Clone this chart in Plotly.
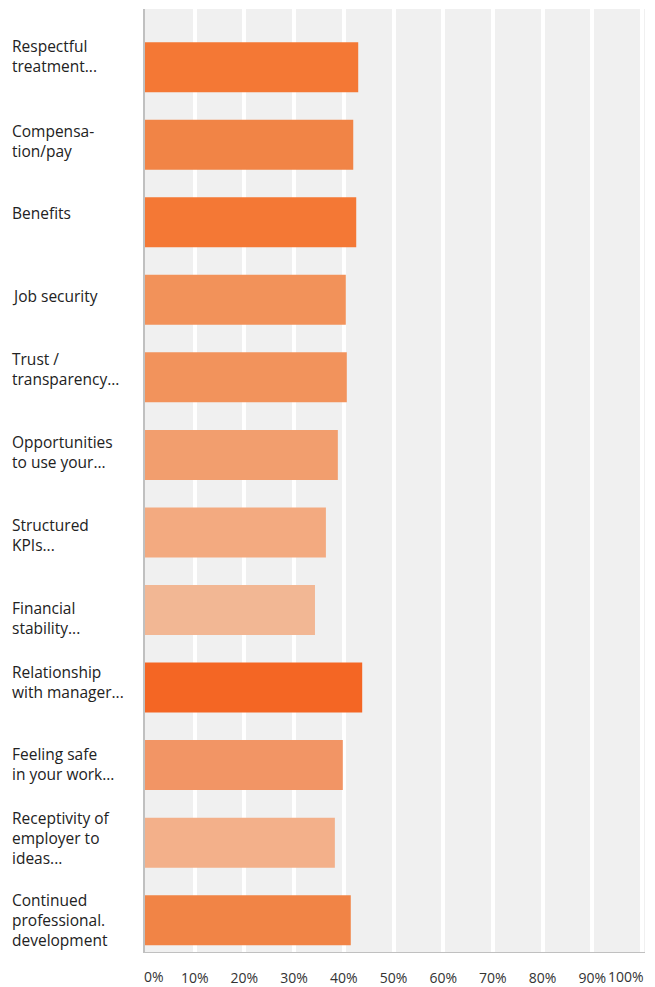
import plotly.graph_objects as go

# Survey factors (top to bottom) and share of respondents, in percent
categories = [
    "Respectful<br>treatment...",
    "Compensa-<br>tion/pay",
    "Benefits",
    "Job security",
    "Trust /<br>transparency...",
    "Opportunities<br>to use your...",
    "Structured<br>KPIs...",
    "Financial<br>stability...",
    "Relationship<br>with manager...",
    "Feeling safe<br>in your work...",
    "Receptivity of<br>employer to<br>ideas...",
    "Continued<br>professional.<br>development",
]
values = [42.9, 41.9, 42.5, 40.4, 40.6, 38.8, 36.4, 34.2, 43.7, 39.8, 38.2, 41.4]
bar_colors = [
    "#F47835", "#F18446", "#F47835", "#F2925A", "#F2935C", "#F29E6E",
    "#F3AA80", "#F2B794", "#F46624", "#F29565", "#F3B08A", "#F18446",
]
tick_values = [0, 10, 20, 30, 40, 50, 60, 70, 80, 90, 100]
tick_labels = ["0%", "10%", "20%", "30%", "40%", "50%", "60%", "70%", "80%", "90%", "100%"]

# vertical nudges (px) for the left-hand category labels
label_nudge = [11, 4, 9, 4, 8, 3, -3, -8, 6, 1, 5, 0]

tick_font = dict(family="Open Sans", size=14, color="#333333")

fig = go.Figure(
    go.Bar(
        x=values,
        y=categories,
        orientation="h",
        width=0.645,
        marker=dict(color=bar_colors, line=dict(width=0)),
        hoverinfo="x+y",
    )
)

for cat, dy in zip(categories, label_nudge):
    fig.add_annotation(
        x=0, xref="paper", xshift=-135,
        y=cat, yref="y", yshift=dy,
        text=cat, showarrow=False,
        xanchor="left", yanchor="middle", align="left",
        font=dict(family="Open Sans", size=15.5, color="#222222"),
    )

# the two end labels are pulled inward so they stay inside the frame
for val, txt, shift in [(tick_values[0], tick_labels[0], 9),
                        (tick_values[-1], tick_labels[-1], -16)]:
    fig.add_annotation(
        x=val, xref="x", xshift=shift,
        y=0, yref="paper", yshift=-24,
        text=txt, showarrow=False,
        xanchor="center", yanchor="middle",
        font=tick_font,
    )

inner_text = [""] + tick_labels[1:-1] + [""]

fig.update_layout(
    width=655,
    height=987,
    margin=dict(l=145, r=10, t=9, b=35, autoexpand=False),
    paper_bgcolor="white",
    plot_bgcolor="#F0F0F0",
    showlegend=False,
    bargap=0.35,
)
fig.update_xaxes(
    range=[0, 100.6],
    tickvals=tick_values,
    ticktext=inner_text,
    tickangle=0,
    automargin=False,
    showgrid=True,
    gridcolor="white",
    gridwidth=4,
    zeroline=False,
    showline=True,
    linecolor="#C0C0C0",
    linewidth=1,
    ticks="outside",
    ticklen=13,
    tickcolor="rgba(0,0,0,0)",
    tickfont=tick_font,
    fixedrange=True,
)
fig.update_yaxes(
    range=[11.41, -0.75],
    automargin=False,
    showticklabels=False,
    showgrid=False,
    zeroline=False,
    showline=True,
    linecolor="#C0C0C0",
    linewidth=2,
    fixedrange=True,
)

fig.write_html("out.html")
